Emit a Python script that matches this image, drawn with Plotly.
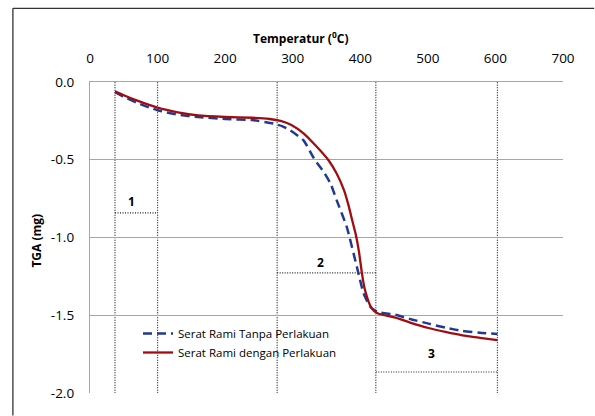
import plotly.graph_objects as go

# ---- data ----
temp_treated = [37, 50, 70, 100, 130, 160, 200, 240, 266, 282, 298, 316, 336, 353, 365, 376, 383, 388, 393, 398, 402.5, 406, 410, 415, 420, 427, 452, 476, 501, 526, 551, 577, 603]
tga_treated = [-0.06, -0.085, -0.12, -0.165, -0.195, -0.215, -0.225, -0.23, -0.238, -0.25, -0.276, -0.33, -0.418, -0.503, -0.589, -0.697, -0.80, -0.889, -0.975, -1.09, -1.232, -1.32, -1.383, -1.44, -1.47, -1.49, -1.515, -1.55, -1.582, -1.607, -1.629, -1.645, -1.66]

temp_untreated = [37, 50, 70, 100, 130, 160, 200, 240, 272, 285, 296, 316, 333, 346, 356, 365, 380, 395, 405, 415, 425, 452, 476, 501, 526, 551, 577, 603]
tga_untreated = [-0.065, -0.095, -0.135, -0.182, -0.21, -0.225, -0.238, -0.245, -0.268, -0.285, -0.31, -0.375, -0.503, -0.579, -0.653, -0.76, -0.932, -1.19, -1.361, -1.447, -1.478, -1.497, -1.527, -1.554, -1.58, -1.601, -1.613, -1.62]

series_names = ["Serat Rami Tanpa Perlakuan", "Serat Rami dengan Perlakuan"]

region_bounds = [37, 100, 277, 423, 603]
region_labels = ["1", "2", "3"]
region_starts = [37, 277, 423]
region_ends = [100, 423, 603]
region_levels = [-0.842, -1.228, -1.865]
label_x = [62, 341, 506]
label_y = [-0.77, -1.16, -1.745]

x_ticks = [0, 100, 200, 300, 400, 500, 600, 700]
y_ticks = [0.0, -0.5, -1.0, -1.5, -2.0]
y_ticktext = ["0.0", "-0.5", "-1.0", "-1.5", "-2.0"]

FONT = "Open Sans"
fig = go.Figure()

fig.add_trace(go.Scatter(
    x=temp_untreated, y=tga_untreated, mode="lines", name=series_names[0],
    line=dict(color="#1F3A93", width=2.5, dash="9px,5px", shape="spline", smoothing=0.5),
))
fig.add_trace(go.Scatter(
    x=temp_treated, y=tga_treated, mode="lines", name=series_names[1],
    line=dict(color="#A00D10", width=2.3, shape="spline", smoothing=0.5),
))

shapes = []
dot = dict(color="#222222", width=1.2, dash="1px,1.5px")
for b in region_bounds:
    shapes.append(dict(type="line", xref="x", yref="y", x0=b, x1=b, y0=0.015, y1=-2.015, line=dot, layer="below"))
for s, e, lv in zip(region_starts, region_ends, region_levels):
    shapes.append(dict(type="line", xref="x", yref="y", x0=s, x1=e, y0=lv, y1=lv, line=dot, layer="below"))
# outer frame (top and left edges only, running to the page edges)
frame = dict(color="#333333", width=1.3)
shapes.append(dict(type="line", xref="paper", yref="paper", x0=-0.163, x1=1.066, y0=1.237, y1=1.237, line=frame))
shapes.append(dict(type="line", xref="paper", yref="paper", x0=-0.163, x1=-0.163, y0=1.237, y1=-0.072, line=frame))

annotations = []
for t, lx, ly in zip(region_labels, label_x, label_y):
    annotations.append(dict(x=lx, y=ly, xref="x", yref="y", text="<b>%s</b>" % t, showarrow=False,
                            font=dict(family=FONT, size=12, color="#000")))
annotations.append(dict(x=(300 - 90) / 473, y=(393 - 38) / 311, xref="paper", yref="paper",
                        xanchor="center", yanchor="middle",
                        text="<b>Temperatur (<sup>0</sup>C)</b>",
                        showarrow=False, font=dict(family=FONT, size=12, color="#000")))
annotations.append(dict(x=(37 - 90) / 473, y=0.49, xref="paper", yref="paper", xanchor="center", yanchor="middle",
                        text="<b>TGA (mg)</b>", textangle=-90,
                        showarrow=False, font=dict(family=FONT, size=12, color="#000")))

fig.update_layout(
    width=595, height=416,
    margin=dict(l=90, r=32, t=82, b=23, pad=0),
    paper_bgcolor="white", plot_bgcolor="white",
    shapes=shapes, annotations=annotations,
    font=dict(family=FONT, size=13.5, color="#000"),
    legend=dict(x=(138 - 90) / 473, y=(393 - 319) / 311, xanchor="left", yanchor="top",
                bgcolor="rgba(0,0,0,0)", font=dict(family=FONT, size=11.5, color="#000"),
                tracegroupgap=0, itemwidth=30),
    xaxis=dict(side="top", range=[0, 700], tickvals=x_ticks, showgrid=False, zeroline=False,
               showline=True, linecolor="#A6A6A6", linewidth=1.3, ticks="outside", ticklen=12,
               tickcolor="rgba(0,0,0,0)", tickfont=dict(family=FONT, size=13.5)),
    yaxis=dict(range=[-2, 0], tickvals=y_ticks, ticktext=y_ticktext, showgrid=True, gridcolor="#A6A6A6",
               gridwidth=1.3, zeroline=False, showline=True, linecolor="#A6A6A6", linewidth=1.3,
               ticks="outside", ticklen=12, tickcolor="rgba(0,0,0,0)", tickfont=dict(family=FONT, size=13.5)),
    showlegend=True,
)

fig.write_html(
    "out.html", config={"displayModeBar": False},
    post_script=("document.documentElement.style.margin='0';document.documentElement.style.overflow='hidden';"
                 "document.body.style.margin='0';document.body.style.overflow='hidden';"),
)
